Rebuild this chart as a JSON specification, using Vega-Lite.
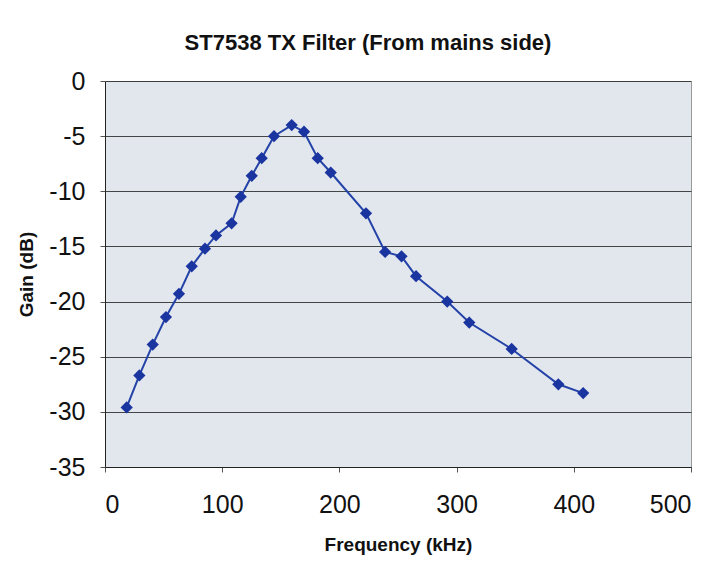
{
  "$schema": "https://vega.github.io/schema/vega-lite/v6.json",
  "autosize": "none",
  "width": 586,
  "height": 386,
  "padding": {"left": 105, "top": 81, "right": 24, "bottom": 96},
  "background": "white",
  "title": {"text": "ST7538 TX Filter (From mains side)", "font": "Liberation Sans", "fontSize": 22, "fontWeight": "bold", "color": "#111111", "offset": 14, "anchor": "middle", "dx": -30},
  "config": {"view": {"fill": "#e2e6ed", "stroke": "#9a9a9a", "strokeWidth": 1}},
  "data": {"values": [
    {"freq": 18.5, "gain": -29.6},
    {"freq": 29.3, "gain": -26.7},
    {"freq": 40.7, "gain": -23.9},
    {"freq": 52, "gain": -21.4},
    {"freq": 63.1, "gain": -19.3},
    {"freq": 74, "gain": -16.8},
    {"freq": 85.3, "gain": -15.2},
    {"freq": 94.7, "gain": -14.0},
    {"freq": 108, "gain": -12.9},
    {"freq": 115.8, "gain": -10.5},
    {"freq": 125.2, "gain": -8.6},
    {"freq": 133.7, "gain": -7.0},
    {"freq": 144.2, "gain": -5.0},
    {"freq": 159.3, "gain": -4.0},
    {"freq": 169.8, "gain": -4.6},
    {"freq": 181.5, "gain": -7.0},
    {"freq": 192.6, "gain": -8.3},
    {"freq": 222.7, "gain": -12.0},
    {"freq": 239, "gain": -15.5},
    {"freq": 253, "gain": -15.9},
    {"freq": 265.4, "gain": -17.7},
    {"freq": 292, "gain": -20.0},
    {"freq": 310.8, "gain": -21.9},
    {"freq": 347, "gain": -24.3},
    {"freq": 386.8, "gain": -27.5},
    {"freq": 408, "gain": -28.3}
  ]},
  "encoding": {
    "x": {"field": "freq", "type": "quantitative",
      "scale": {"domain": [0, 500], "nice": false, "zero": false},
      "axis": {"title": "Frequency (kHz)", "values": [0, 100, 200, 300, 400, 500], "grid": false,
        "domainColor": "#222222", "tickColor": "#555555", "tickSize": 5,
        "labelFont": "Liberation Sans", "labelFontSize": 25, "labelColor": "#111111", "labelPadding": 20,
        "titleFont": "Liberation Sans", "titleFontSize": 19, "titleFontWeight": "bold", "titleColor": "#111111", "titlePadding": 18}},
    "y": {"field": "gain", "type": "quantitative",
      "scale": {"domain": [-35, 0], "nice": false, "zero": false},
      "axis": {"title": "Gain (dB)", "values": [-35, -30, -25, -20, -15, -10, -5, 0], "grid": true,
        "labelExpr": "'' + datum.value",
        "gridColor": "#333333", "gridWidth": 1, "gridOpacity": 0.9,
        "domainColor": "#222222", "tickColor": "#555555", "tickSize": 5,
        "labelFont": "Liberation Sans", "labelFontSize": 25, "labelColor": "#111111", "labelPadding": 15,
        "titleFont": "Liberation Sans", "titleFontSize": 19, "titleFontWeight": "bold", "titleColor": "#111111", "titlePadding": 12}}
  },
  "layer": [
    {"mark": {"type": "line", "color": "#2443a8", "strokeWidth": 2}},
    {"mark": {"type": "point", "shape": "diamond", "filled": true, "color": "#1a34a0", "size": 150, "opacity": 1}}
  ]
}
